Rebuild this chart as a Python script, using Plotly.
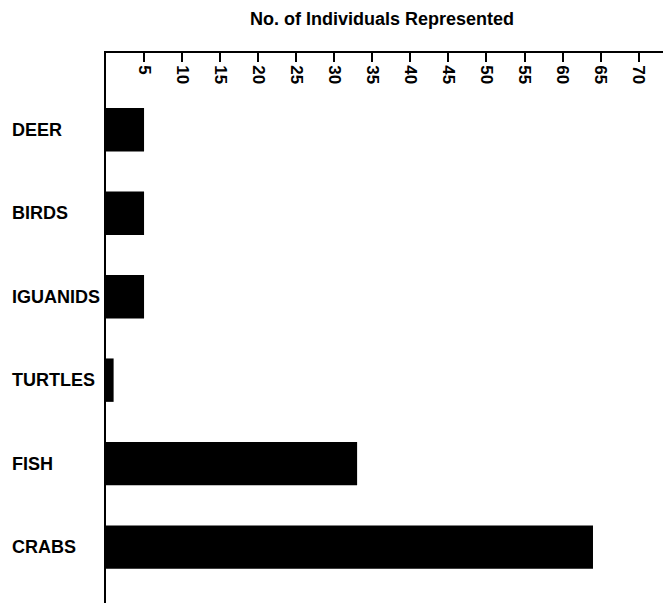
import plotly.graph_objects as go

# Animal categories and the number of individuals represented
categories = ["DEER", "BIRDS", "IGUANIDS", "TURTLES", "FISH", "CRABS"]
individuals = [5, 5, 5, 1, 33, 64]

# Scale ticks along the top axis
tick_values = [5, 10, 15, 20, 25, 30, 35, 40, 45, 50, 55, 60, 65, 70]
tick_labels = [f"<b>{v}</b>" for v in tick_values]

title_text = "No. of Individuals Represented"

FONT = "Liberation Sans, Arial, sans-serif"
X_RANGE = [0, 73.2]

fig = go.Figure()
fig.add_trace(
    go.Bar(
        x=individuals,
        y=categories,
        orientation="h",
        width=0.52,
        marker=dict(color="black", line=dict(width=0)),
        hoverinfo="x+y",
    )
)
# empty trace so the overlaid label axis is drawn
fig.add_trace(
    go.Scatter(x=[], y=[], xaxis="x2", yaxis="y", mode="markers",
               showlegend=False, hoverinfo="skip")
)

# Category names, left aligned in the margin
annotations = [
    dict(
        text=f"<b>{c}</b>",
        x=-0.172,
        xref="paper",
        xanchor="left",
        y=c,
        yref="y",
        yanchor="middle",
        showarrow=False,
        font=dict(family=FONT, size=18, color="black"),
    )
    for c in categories
]
annotations.append(
    dict(
        text=f"<b>{title_text}</b>",
        x=0.496,
        xref="paper",
        xanchor="center",
        y=1.062,
        yref="paper",
        yanchor="middle",
        showarrow=False,
        font=dict(family=FONT, size=18, color="black"),
    )
)

fig.update_layout(
    width=663,
    height=605,
    margin=dict(l=106, r=0, t=53, b=2),
    paper_bgcolor="white",
    plot_bgcolor="white",
    showlegend=False,
    annotations=annotations,
    # top axis line with short ticks pointing down into the plot
    xaxis=dict(
        side="top",
        range=X_RANGE,
        showline=True,
        linecolor="black",
        linewidth=2,
        showgrid=False,
        zeroline=False,
        ticks="inside",
        ticklen=9,
        tickwidth=1.5,
        tickcolor="black",
        tickvals=tick_values,
        showticklabels=False,
    ),
    # rotated scale numbers hanging just below the ticks
    xaxis2=dict(
        overlaying="x",
        side="top",
        range=X_RANGE,
        showline=False,
        showgrid=False,
        zeroline=False,
        ticks="",
        tickvals=tick_values,
        ticktext=tick_labels,
        tickangle=90,
        ticklabelposition="inside",
        tickfont=dict(family=FONT, size=17, color="black"),
    ),
    yaxis=dict(
        type="category",
        categoryorder="array",
        categoryarray=categories,
        range=[5.67, -0.92],
        showline=True,
        linecolor="black",
        linewidth=2,
        showgrid=False,
        zeroline=False,
        showticklabels=False,
        ticks="",
    ),
)

fig.write_html("out.html")
